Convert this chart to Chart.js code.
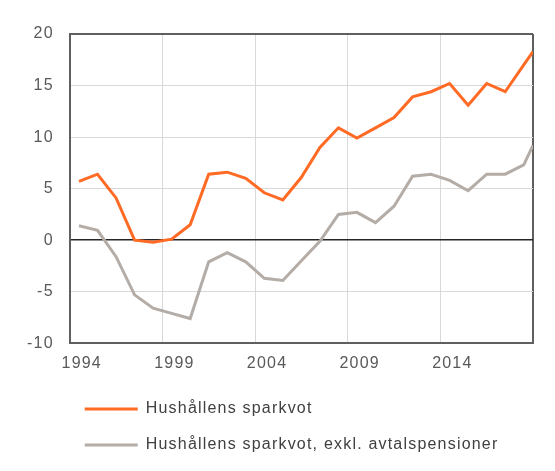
<!DOCTYPE html>
<html>
<head>
<meta charset="utf-8">
<script src="https://cdn.jsdelivr.net/npm/chart.js@4/dist/chart.umd.min.js"></script>
<style>
  html, body { margin: 0; padding: 0; background: #ffffff; }
  #wrap { width: 555px; height: 471px; position: relative; }
</style>
</head>
<body>
<div id="wrap"><canvas id="c" width="555" height="471"></canvas></div>
<script>
// ---- data ----
const years = [1994, 1995, 1996, 1997, 1998, 1999, 2000, 2001, 2002, 2003, 2004, 2005, 2006,
               2007, 2008, 2009, 2010, 2011, 2012, 2013, 2014, 2015, 2016, 2017, 2018, 2018.5];
const savingRatio = [5.7, 6.4, 4.1, 0.0, -0.2, 0.1, 1.5, 6.4, 6.6, 6.0, 4.6, 3.9, 6.1,
                     9.0, 10.9, 9.9, 10.9, 11.9, 13.9, 14.4, 15.2, 13.1, 15.2, 14.4, 17.0, 18.3];
const savingRatioExcl = [1.4, 0.95, -1.6, -5.3, -6.6, -7.1, -7.6, -2.1, -1.2, -2.1, -3.7, -3.9, -2.0,
                         -0.1, 2.5, 2.7, 1.7, 3.3, 6.2, 6.4, 5.8, 4.8, 6.4, 6.4, 7.3, 9.2];
const seriesNames = ['Hushållens sparkvot', 'Hushållens sparkvot, exkl. avtalspensioner'];
const xTickValues = [1993.5, 1998.5, 2003.5, 2008.5, 2013.5, 2018.5];
const xTickLabels = ['1994', '1999', '2004', '2009', '2014', ''];
const yTickValues = [-10, -5, 0, 5, 10, 15, 20];

// ---- styles ----
const FONT = "'Liberation Sans', Arial, sans-serif";
const FRAME = '#5f5f5f';
const GRID = '#d9d9d9';
const SPACING = '1.2px';

const toPoints = (vals) => vals.map((v, i) => ({ x: years[i], y: v }));

const textSpacing = {
  id: 'textSpacing',
  beforeUpdate(chart) { chart.ctx.letterSpacing = SPACING; },
  beforeLayout(chart) { chart.ctx.letterSpacing = SPACING; },
  beforeDraw(chart) { chart.ctx.letterSpacing = SPACING; }
};

const legendShift = {
  id: 'legendShift',
  afterLayout(chart) {
    if (chart.legend) { chart.legend.left -= 5; chart.legend.right -= 5; }
  }
};

new Chart(document.getElementById('c'), {
  type: 'line',
  data: {
    datasets: [
      { label: seriesNames[0], data: toPoints(savingRatio), borderColor: '#ff6a25', backgroundColor: '#ff6a25',
        borderWidth: 3, pointRadius: 0, tension: 0 },
      { label: seriesNames[1], data: toPoints(savingRatioExcl), borderColor: '#b3aca7', backgroundColor: '#b3aca7',
        borderWidth: 3, pointRadius: 0, tension: 0 }
    ]
  },
  options: {
    responsive: false,
    animation: false,
    layout: { padding: { top: 34, right: 22, left: 11, bottom: 8 } },
    plugins: {
      tooltip: { enabled: false },
      legend: {
        position: 'bottom',
        align: 'start',
        fullSize: false,
        labels: {
          usePointStyle: true,
          pointStyle: 'line',
          pointStyleWidth: 53,
          padding: 20,
          color: '#404040',
          font: { family: FONT, size: 16 }
        }
      }
    },
    scales: {
      x: {
        type: 'linear',
        min: 1993.5,
        max: 2018.5,
        afterBuildTicks: (s) => { s.ticks = xTickValues.map(v => ({ value: v })); },
        afterFit: (s) => { s.height -= 3.5; },
        ticks: {
          autoSkip: false,
          maxRotation: 0,
          padding: 11,
          labelOffset: 12,
          color: '#595959',
          font: { family: FONT, size: 16 },
          callback: (v, i) => xTickLabels[i]
        },
        grid: {
          drawTicks: false,
          color: (ctx) => (ctx.tick && (ctx.tick.value === 2018.5 || ctx.tick.value === 1993.5)) ? FRAME : GRID,
          lineWidth: (ctx) => (ctx.tick && (ctx.tick.value === 2018.5 || ctx.tick.value === 1993.5)) ? 2 : 1
        },
        border: { color: FRAME, width: 2 }
      },
      y: {
        min: -10,
        max: 20,
        afterBuildTicks: (s) => { s.ticks = yTickValues.map(v => ({ value: v })); },
        ticks: {
          padding: 16,
          color: '#595959',
          font: { family: FONT, size: 16 }
        },
        grid: {
          drawTicks: false,
          color: (ctx) => {
            const v = ctx.tick && ctx.tick.value;
            if (v === 0) return '#262626';
            if (v === 20 || v === -10) return FRAME;
            return GRID;
          },
          lineWidth: (ctx) => {
            const v = ctx.tick && ctx.tick.value;
            if (v === 0) return 1.5;
            if (v === 20 || v === -10) return 2;
            return 1;
          }
        },
        border: { color: FRAME, width: 2 }
      }
    }
  },
  plugins: [textSpacing, legendShift]
});
</script>
</body>
</html>
